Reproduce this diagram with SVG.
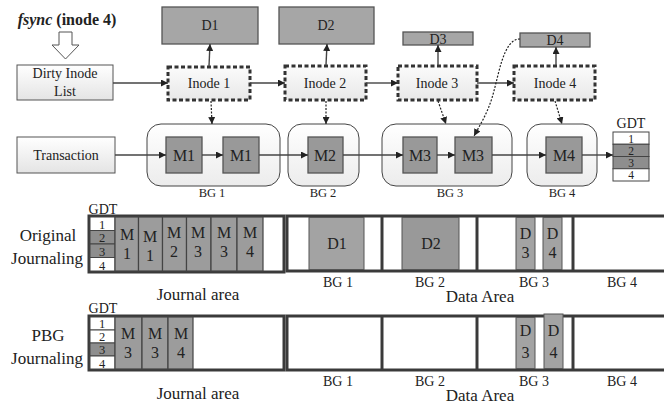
<svg xmlns="http://www.w3.org/2000/svg" width="664" height="406" viewBox="0 0 664 406">
<style>
text{font-family:"Liberation Serif","Times New Roman",serif;fill:#222;text-anchor:middle}
.t14{font-size:14px}
.t16{font-size:16px}
.t17{font-size:17px}
.t12{font-size:12.5px}
.t13{font-size:12.5px}
.tg{font-size:11.5px}
.dbox{fill:#a6a6a6;stroke:#555;stroke-width:1.3}
.mbox{fill:#999;stroke:#555;stroke-width:1.3}
.plain{fill:url(#gLight);stroke:#555;stroke-width:1}
.inode{fill:url(#gInode);stroke:#333;stroke-width:3;stroke-dasharray:4 2.5}
.bg{fill:url(#gBG);stroke:#444;stroke-width:1}
.ln{stroke:#444;stroke-width:1.4;fill:none}
.dot{stroke:#222;stroke-width:1.2;fill:none;stroke-dasharray:2 1.5}
.outer{fill:#fff;stroke:#3a3a3a;stroke-width:3}
.cellw{fill:#fff;stroke:#444;stroke-width:1}
.cellg{fill:#8e8e8e;stroke:#444;stroke-width:1}
.jm{fill:#9c9c9c;stroke:#444;stroke-width:1.2}
.dd{fill:#a3a3a3;stroke:#555;stroke-width:1}
.sep{stroke:#3a3a3a;stroke-width:3}
</style>
<defs>
<linearGradient id="gLight" x1="0" y1="0" x2="0" y2="1"><stop offset="0" stop-color="#ffffff"/><stop offset="1" stop-color="#e4e4e4"/></linearGradient>
<linearGradient id="gInode" x1="0" y1="0" x2="0" y2="1"><stop offset="0" stop-color="#fbfbfb"/><stop offset="1" stop-color="#e8e8e8"/></linearGradient>
<linearGradient id="gBG" x1="0" y1="0" x2="0" y2="1"><stop offset="0" stop-color="#ffffff"/><stop offset="1" stop-color="#ececec"/></linearGradient>
<marker id="ah" viewBox="0 0 10 10" refX="10" refY="5" markerWidth="7" markerHeight="7" markerUnits="userSpaceOnUse" orient="auto"><path d="M0,0 L10,5 L0,10 z" fill="#222"/></marker>
</defs>

<!-- title -->
<text x="67" y="25" class="t16" font-weight="bold"><tspan font-style="italic">fsync</tspan> (inode 4)</text>
<path d="M59,32 H72 V45 H79 L65.5,59 L52,45 H59 Z" fill="#fff" stroke="#555" stroke-width="1"/>

<g id="dirty">
<rect x="17" y="65" width="96" height="35" class="plain"/>
<text x="65" y="78" class="t14">Dirty Inode</text>
<text x="65" y="96" class="t14">List</text>
</g>
<g id="transaction">
<rect x="17" y="137" width="98" height="36" class="plain"/>
<text x="66" y="160" class="t14">Transaction</text>
</g>

<g id="D1"><rect x="162" y="7" width="96" height="37" class="dbox"/><text x="210" y="30" class="t14">D1</text></g>
<g id="D2"><rect x="279" y="7" width="95" height="37" class="dbox"/><text x="326" y="30" class="t14">D2</text></g>
<g id="D3"><rect x="403" y="32" width="70" height="13" class="dbox"/><text x="438" y="44" class="t14">D3</text></g>
<g id="D4"><rect x="520" y="33" width="70" height="14" class="dbox"/><text x="555" y="45" class="t14">D4</text></g>

<g id="inode1"><rect x="168" y="67" width="82" height="33" class="inode"/><text x="209" y="88" class="t14">Inode 1</text></g>
<g id="inode2"><rect x="285" y="66" width="81" height="34" class="inode"/><text x="325" y="88" class="t14">Inode 2</text></g>
<g id="inode3"><rect x="398" y="66" width="79" height="34" class="inode"/><text x="437" y="88" class="t14">Inode 3</text></g>
<g id="inode4"><rect x="514" y="66" width="81" height="34" class="inode"/><text x="555" y="88" class="t14">Inode 4</text></g>

<g id="BG1"><rect x="147" y="124" width="133" height="62" rx="14" class="bg"/>
<rect x="166" y="137" width="36" height="36" class="mbox"/><text x="184" y="161" class="t16">M1</text>
<rect x="223" y="137" width="36" height="36" class="mbox"/><text x="241" y="161" class="t16">M1</text>
<text x="212" y="197" class="t12">BG 1</text></g>
<g id="BG2"><rect x="288" y="124" width="71" height="62" rx="14" class="bg"/>
<rect x="308" y="137" width="35" height="36" class="mbox"/><text x="325" y="161" class="t16">M2</text>
<text x="323" y="197" class="t12">BG 2</text></g>
<g id="BG3"><rect x="382" y="124" width="130" height="62" rx="14" class="bg"/>
<rect x="403" y="137" width="34" height="36" class="mbox"/><text x="420" y="161" class="t16">M3</text>
<rect x="455" y="137" width="37" height="36" class="mbox"/><text x="473" y="161" class="t16">M3</text>
<text x="450" y="197" class="t12">BG 3</text></g>
<g id="BG4"><rect x="527" y="124" width="70" height="62" rx="14" class="bg"/>
<rect x="546" y="137" width="36" height="36" class="mbox"/><text x="564" y="161" class="t16">M4</text>
<text x="562" y="197" class="t12">BG 4</text></g>

<g id="GDT">
<text x="631" y="128" class="t14">GDT</text>
<rect x="613" y="132" width="36" height="12.25" class="cellw"/>
<rect x="613" y="144.25" width="36" height="12.25" class="cellg"/>
<rect x="613" y="156.5" width="36" height="12.25" class="cellg"/>
<rect x="613" y="168.75" width="36" height="12.25" class="cellw"/>
<text x="631" y="142.5" class="tg">1</text><text x="631" y="154.5" class="tg">2</text><text x="631" y="167" class="tg">3</text><text x="631" y="179" class="tg">4</text>
</g>

<g id="connectors">
<line x1="113" y1="83" x2="168" y2="83" class="ln" marker-end="url(#ah)"/>
<line x1="250" y1="83" x2="285" y2="83" class="ln" marker-end="url(#ah)"/>
<line x1="366" y1="83" x2="398" y2="83" class="ln" marker-end="url(#ah)"/>
<line x1="477" y1="83" x2="514" y2="83" class="ln" marker-end="url(#ah)"/>
<line x1="209" y1="66" x2="210" y2="44" class="ln" marker-end="url(#ah)"/>
<line x1="326" y1="65" x2="327" y2="44" class="ln" marker-end="url(#ah)"/>
<line x1="438" y1="65" x2="438" y2="45" class="ln" marker-end="url(#ah)"/>
<line x1="556" y1="65" x2="556" y2="47" class="ln" marker-end="url(#ah)"/>
<line x1="211" y1="101" x2="212" y2="124" class="dot" marker-end="url(#ah)"/>
<line x1="326" y1="101" x2="326" y2="124" class="dot" marker-end="url(#ah)"/>
<line x1="438" y1="101" x2="446" y2="124" class="dot" marker-end="url(#ah)"/>
<line x1="555" y1="101" x2="562" y2="124" class="dot" marker-end="url(#ah)"/>
<path d="M520,39 C503,39 499,75 492,98 C487,114 480,125 474,136" class="dot" marker-end="url(#ah)"/>
<line x1="115" y1="155" x2="166" y2="155" class="ln" marker-end="url(#ah)"/>
<line x1="202" y1="155" x2="223" y2="155" class="ln" marker-end="url(#ah)"/>
<line x1="259" y1="155" x2="308" y2="155" class="ln" marker-end="url(#ah)"/>
<line x1="343" y1="155" x2="403" y2="155" class="ln" marker-end="url(#ah)"/>
<line x1="437" y1="155" x2="455" y2="155" class="ln" marker-end="url(#ah)"/>
<line x1="492" y1="155" x2="546" y2="155" class="ln" marker-end="url(#ah)"/>
<line x1="582" y1="155" x2="613" y2="155" class="ln" marker-end="url(#ah)"/>
</g>

<!-- Original journaling -->
<g id="original">
<text x="48" y="241" class="t17">Original</text>
<text x="47" y="264" class="t17">Journaling</text>
<text x="103" y="214" class="t14">GDT</text>
<rect x="89" y="216" width="195" height="56" class="outer"/>
<rect x="90" y="217" width="25" height="13.5" class="cellw"/>
<rect x="90" y="230.5" width="25" height="13.5" class="cellg"/>
<rect x="90" y="244" width="25" height="13.5" class="cellg"/>
<rect x="90" y="257.5" width="25" height="13.5" class="cellw"/>
<text x="102" y="228.5" class="t13">1</text><text x="102" y="242" class="t13">2</text><text x="102" y="255.5" class="t13">3</text><text x="102" y="269.5" class="t13">4</text>
<rect x="115" y="217" width="23.5" height="54" class="jm"/>
<rect x="138.5" y="217" width="24" height="54" class="jm"/>
<rect x="162.5" y="217" width="24" height="54" class="jm"/>
<rect x="186.5" y="217" width="24.5" height="54" class="jm"/>
<rect x="211" y="217" width="26" height="54" class="jm"/>
<rect x="237" y="217" width="26" height="54" class="jm"/>
<text x="127" y="240" class="t16">M</text><text x="127" y="259" class="t16">1</text>
<text x="150" y="242" class="t16">M</text><text x="150" y="261" class="t16">1</text>
<text x="174" y="238" class="t16">M</text><text x="174" y="257" class="t16">2</text>
<text x="198" y="238" class="t16">M</text><text x="198" y="257" class="t16">3</text>
<text x="224" y="238" class="t16">M</text><text x="224" y="257" class="t16">3</text>
<text x="250" y="238" class="t16">M</text><text x="250" y="257" class="t16">4</text>
<text x="198" y="300" class="t17">Journal area</text>

<rect x="287" y="216" width="385" height="55" class="outer"/>
<rect x="309" y="217.5" width="55" height="52" class="dd"/>
<rect x="402" y="217.5" width="57" height="52" fill="#999" stroke="#555" stroke-width="1"/>
<rect x="516" y="217.5" width="19" height="52" class="dd"/>
<rect x="543" y="217.5" width="19" height="52" class="dd"/>
<line x1="382" y1="216" x2="382" y2="271" class="sep"/>
<line x1="477" y1="216" x2="477" y2="271" class="sep"/>
<line x1="573" y1="216" x2="573" y2="271" class="sep"/>
<text x="337" y="249" class="t16">D1</text>
<text x="431" y="249" class="t16">D2</text>
<text x="525.5" y="239" class="t16">D</text><text x="525.5" y="258" class="t16">3</text>
<text x="552.5" y="239" class="t16">D</text><text x="552.5" y="258" class="t16">4</text>
<text x="338" y="287" class="t14">BG 1</text>
<text x="430" y="287" class="t14">BG 2</text>
<text x="534" y="287" class="t14">BG 3</text>
<text x="622" y="287" class="t14">BG 4</text>
<text x="480" y="302" class="t17">Data Area</text>
</g>

<!-- PBG journaling -->
<g id="pbg">
<text x="48" y="341" class="t17">PBG</text>
<text x="47" y="364" class="t17">Journaling</text>
<text x="103" y="313" class="t14">GDT</text>
<rect x="89" y="316" width="195" height="54" class="outer"/>
<rect x="90" y="317" width="25" height="13" class="cellw"/>
<rect x="90" y="330" width="25" height="13" class="cellw"/>
<rect x="90" y="343" width="25" height="13" class="cellg"/>
<rect x="90" y="356" width="25" height="13" class="cellw"/>
<text x="102" y="328" class="t13">1</text><text x="102" y="341" class="t13">2</text><text x="102" y="354" class="t13">3</text><text x="102" y="367.5" class="t13">4</text>
<rect x="115" y="317" width="27" height="52" class="jm"/>
<rect x="142" y="317" width="26" height="52" class="jm"/>
<rect x="168" y="317" width="25" height="52" class="jm"/>
<text x="128" y="339" class="t16">M</text><text x="128" y="358" class="t16">3</text>
<text x="155" y="339" class="t16">M</text><text x="155" y="358" class="t16">3</text>
<text x="181" y="339" class="t16">M</text><text x="181" y="358" class="t16">4</text>
<text x="198" y="399" class="t17">Journal area</text>

<rect x="287" y="316" width="385" height="54" class="outer"/>
<rect x="516" y="317.5" width="19" height="51" class="dd"/>
<rect x="544" y="314" width="19" height="54.5" class="dd"/>
<line x1="382" y1="316" x2="382" y2="370" class="sep"/>
<line x1="477" y1="316" x2="477" y2="370" class="sep"/>
<line x1="573" y1="316" x2="573" y2="370" class="sep"/>
<text x="525.5" y="336" class="t16">D</text><text x="525.5" y="358" class="t16">3</text>
<text x="553.5" y="336" class="t16">D</text><text x="553.5" y="358" class="t16">4</text>
<text x="338" y="386" class="t14">BG 1</text>
<text x="430" y="386" class="t14">BG 2</text>
<text x="534" y="386" class="t14">BG 3</text>
<text x="622" y="386" class="t14">BG 4</text>
<text x="480" y="401" class="t17">Data Area</text>
</g>
</svg>
